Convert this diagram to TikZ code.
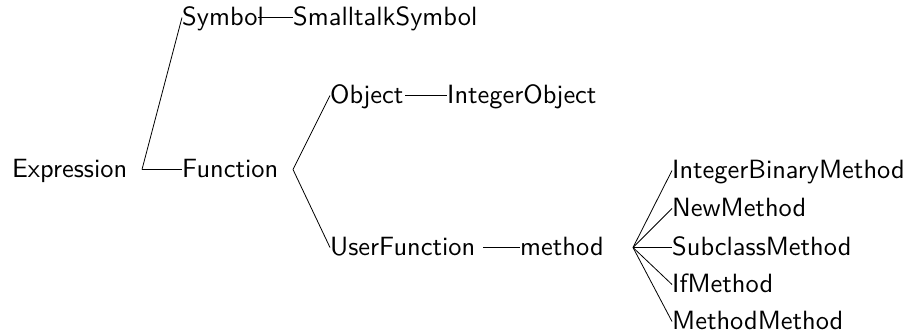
\documentclass[tikz,border=0pt]{standalone}
\usepackage{fontspec}
\newfontfamily\lmsten{lmsans10-regular.otf}
\begin{document}
\begin{tikzpicture}[x=1pt,y=-1pt,
  lbl/.style={anchor=base west,inner sep=0pt,text height=15pt,text depth=0pt,font=\lmsten\fontsize{26.4}{32}\selectfont},
  edge/.style={draw=black,line width=0.8pt}]
\useasboundingbox (0,0) rectangle (908,335);
\node[lbl] (expr) at (12,177) {Expression};
\node[lbl] (sym) at (182,25) {Symbol};
\node[lbl] (ssym) at (293,25) {SmalltalkSymbol};
\node[lbl] (fun) at (182,177) {Function};
\node[lbl] (obj) at (330,103) {Object};
\node[lbl] (iobj) at (447,103) {IntegerObject};
\node[lbl] (ufun) at (330,255) {UserFunction};
\node[lbl] (meth) at (520,255) {method};
\node[lbl] (ibm) at (672,178) {IntegerBinaryMethod};
\node[lbl] (nm) at (672,216) {NewMethod};
\node[lbl] (scm) at (672,255) {SubclassMethod};
\node[lbl] (ifm) at (672,292) {IfMethod};
\node[lbl] (mm) at (672,329) {MethodMethod};
\path (expr.west) ++(130,0) coordinate (exo);
\path (sym.west) ++(76,0) coordinate (syo);
\path (fun.west) ++(111,0) coordinate (fuo);
\path (obj.west) ++(75,0) coordinate (obo);
\path (ufun.west) ++(153,0) coordinate (ufo);
\path (meth.west) ++(113,0) coordinate (meo);
\draw[edge] (exo) -- (sym.west);
\draw[edge] (exo) -- (fun.west);
\draw[edge] (syo) -- (ssym.west);
\draw[edge] (fuo) -- (obj.west);
\draw[edge] (fuo) -- (ufun.west);
\draw[edge] (obo) -- (iobj.west);
\draw[edge] (ufo) -- (meth.west);
\draw[edge] (meo) -- (ibm.west);
\draw[edge] (meo) -- (nm.west);
\draw[edge] (meo) -- (scm.west);
\draw[edge] (meo) -- (ifm.west);
\draw[edge] (meo) -- (mm.west);
\end{tikzpicture}
\end{document}
